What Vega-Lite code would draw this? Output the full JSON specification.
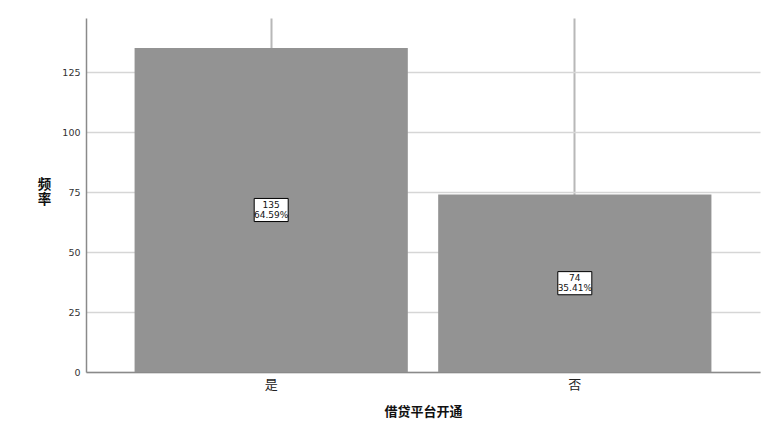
{
  "$schema": "https://vega.github.io/schema/vega-lite/v6.json",
  "width": 674,
  "height": 354,
  "autosize": {"type": "none"},
  "padding": {"left": 86, "top": 18, "right": 6, "bottom": 58},
  "background": "white",
  "config": {"view": {"stroke": null}, "font": "Noto Sans CJK SC"},
  "data": {
    "values": [
      {"category": "是", "count": 135, "pct": 0.6459},
      {"category": "否", "count": 74, "pct": 0.3541}
    ]
  },
  "transform": [{"calculate": "datum.count / 2", "as": "mid"}],
  "encoding": {
    "x": {
      "field": "category",
      "type": "nominal",
      "sort": ["是", "否"],
      "scale": {"paddingInner": 0.1, "paddingOuter": 0.16},
      "axis": {
        "title": "借贷平台开通",
        "titleFontSize": 13,
        "titleFontWeight": "bold",
        "titleColor": "#111",
        "titleY": 39,
        "titleBaseline": "middle",
        "labelAngle": 0,
        "labelFontSize": 13,
        "labelColor": "#222",
        "labelPadding": 6,
        "ticks": false,
        "tickSize": 0,
        "domainColor": "#8a8a8a",
        "domainWidth": 1.5,
        "grid": true,
        "gridColor": "#b8b8b8",
        "gridWidth": 2,
        "bandPosition": 0.5
      }
    }
  },
  "layer": [
    {
      "mark": {"type": "bar", "fill": "#939393"},
      "encoding": {
        "y": {
          "field": "count",
          "type": "quantitative",
          "scale": {"domain": [0, 147.5], "nice": false},
          "axis": {
            "title": ["频", "率"],
            "titleAngle": 0,
            "titleFontSize": 13.5,
            "titleFontWeight": "bold",
            "titleColor": "#111",
            "titleX": -42,
            "titleY": 166.5,
            "titleAlign": "center",
            "titleBaseline": "middle",
            "titleLineHeight": 14.5,
            "values": [0, 25, 50, 75, 100, 125],
            "labelFont": "DejaVu Sans",
            "labelFontSize": 9.5,
            "labelColor": "#333",
            "labelPadding": 6,
            "ticks": false,
            "tickSize": 0,
            "domainColor": "#8a8a8a",
            "domainWidth": 1.5,
            "gridColor": "#d6d6d6",
            "gridWidth": 1.5
          }
        }
      }
    },
    {
      "mark": {
        "type": "point",
        "shape": "M-1,-0.68L1,-0.68L1,0.68L-1,0.68Z",
        "size": 1156,
        "fill": "white",
        "fillOpacity": 1,
        "stroke": "black",
        "strokeWidth": 1,
        "opacity": 1
      },
      "encoding": {"y": {"field": "mid", "type": "quantitative"}}
    },
    {
      "mark": {"type": "text", "font": "DejaVu Sans", "fontSize": 9, "color": "#111", "baseline": "middle", "dy": -5},
      "encoding": {
        "y": {"field": "mid", "type": "quantitative"},
        "text": {"field": "count", "type": "quantitative"}
      }
    },
    {
      "mark": {"type": "text", "font": "DejaVu Sans", "fontSize": 9, "color": "#111", "baseline": "middle", "dy": 5},
      "encoding": {
        "y": {"field": "mid", "type": "quantitative"},
        "text": {"field": "pct", "type": "quantitative", "format": ".2%"}
      }
    }
  ]
}
